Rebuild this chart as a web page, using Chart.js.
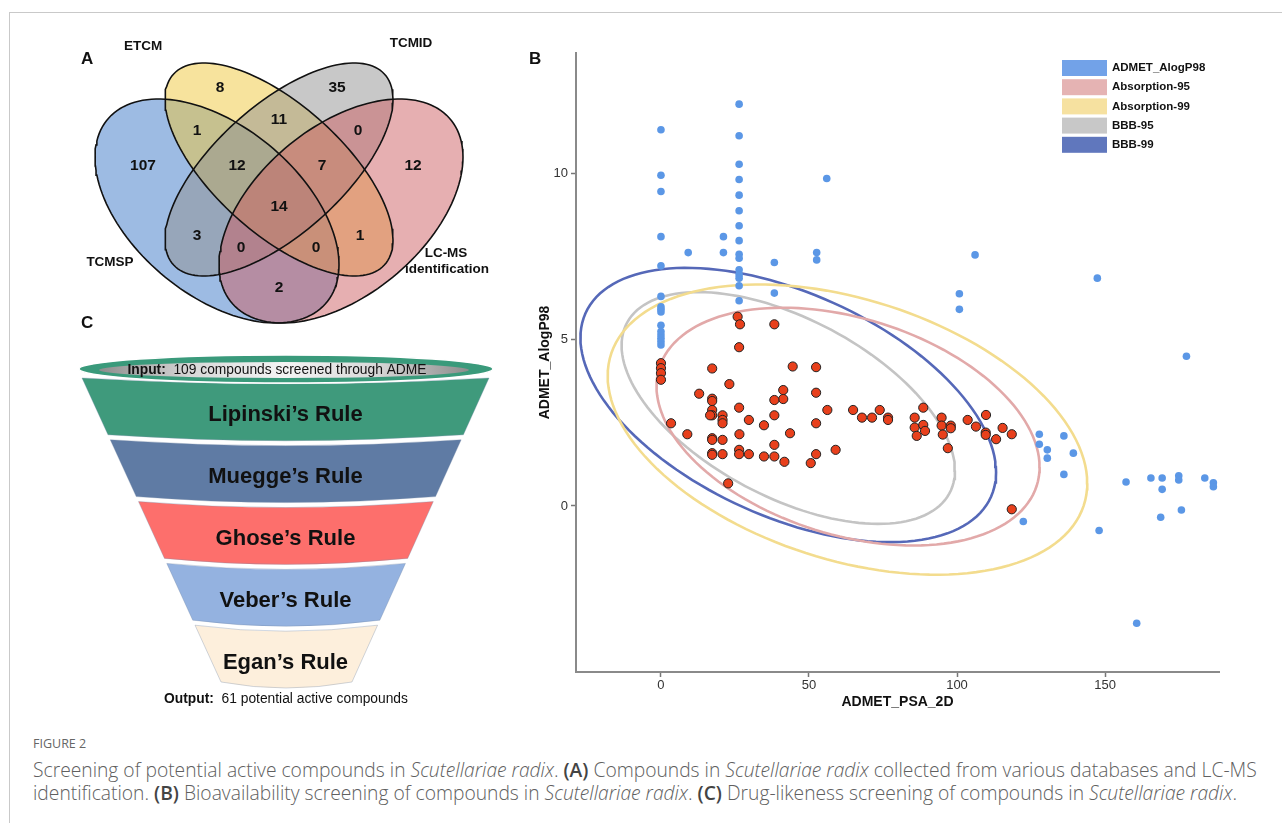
<!DOCTYPE html>
<html>
<head>
<meta charset="utf-8">
<script src="https://cdn.jsdelivr.net/npm/chart.js@4.4.1/dist/chart.umd.min.js"></script>
<style>
  html, body { margin: 0; padding: 0; background: #fff; width: 1282px; height: 823px; overflow: hidden; }
  #frame { position: absolute; left: 9px; top: 12px; width: 1300px; height: 830px;
           border-top: 1.5px solid #c9c9c9; border-left: 1.5px solid #c9c9c9; }
  canvas { position: absolute; }
  .panel { position: absolute; font: bold 17px "Liberation Sans", Arial, sans-serif; color: #111; line-height: 17px; }
  #caption { position: absolute; left: 33px; top: 734px; color: #606060; font-family: "Open Sans", sans-serif; font-weight: 300; }
  #caption .fig { font-size: 12.5px; line-height: 20px; color: #666; font-weight: 400; margin-bottom: 4px; }
  #caption .line { white-space: nowrap; line-height: 23px; font-size: 17px; }
  #caption b { color: #444; font-weight: 600; }
</style>
</head>
<body>
<div id="frame"></div>
<canvas id="venn" width="520" height="340" style="left:0;top:0"></canvas>
<canvas id="funnel" width="520" height="385" style="left:0;top:330px"></canvas>
<canvas id="scatter" width="740" height="680" style="left:505px;top:40px"></canvas>
<div class="panel" style="left:81px;top:50px">A</div>
<div class="panel" style="left:529px;top:50px">B</div>
<div class="panel" style="left:81px;top:314px">C</div>
<div id="caption">
  <div class="fig">FIGURE 2</div>
  <div class="line" id="capline1">Screening of potential active compounds in <i>Scutellariae radix</i>. <b>(A)</b> Compounds in <i>Scutellariae radix</i> collected from various databases and LC-MS</div>
  <div class="line">identification. <b>(B)</b> Bioavailability screening of compounds in <i>Scutellariae radix</i>. <b>(C)</b> Drug-likeness screening of compounds in <i>Scutellariae radix</i>.</div>
</div>
<script>
Chart.defaults.font.family = '"Liberation Sans", Arial, sans-serif';
Chart.defaults.color = '#333';

// ---------- Panel A: Venn ----------
var vennSets = ['TCMSP', 'ETCM', 'TCMID', 'LC-MS identification'];
var vennColors = ['rgba(60,120,200,0.5)', 'rgba(240,200,60,0.5)', 'rgba(145,145,145,0.5)', 'rgba(205,95,100,0.5)'];
// region counts, read left-to-right / top-to-bottom
var vennCounts = [107, 8, 35, 12, 1, 11, 0, 12, 7, 14, 3, 1, 0, 0, 2];
var vennCountX = [143, 220, 337, 413, 197, 279, 358, 237, 322, 279, 197, 360, 241, 316, 279];
var vennCountY = [166, 88, 88, 166, 131, 120, 131, 166, 166, 207, 236, 236, 248, 248, 288];
// ellipse shapes (centre, half extents, tilt)
var vennCx = [217, 279, 279, 341];
var vennCy = [211, 169.5, 169.5, 211];
var vennRx = [122, 114, 114, 122];
var vennRy = [112, 106.5, 106.5, 112];
var vennRho = [0.48, 0.66, -0.66, -0.48];
var vennNameX = [110, 143, 411, 446];
var vennNameY = [262, 46, 43, 253];

function ellipsePoints(cx, cy, rx, ry, rho) {
  var pts = [];
  var s = Math.sqrt(1 - rho * rho);
  for (var i = 0; i <= 144; i++) {
    var t = i / 144 * Math.PI * 2;
    pts.push({ x: cx + rx * Math.cos(t), y: cy + ry * (rho * Math.cos(t) + s * Math.sin(t)) });
  }
  return pts;
}

var vennLabels = {
  id: 'vennLabels',
  afterDraw: function (chart) {
    var ctx = chart.ctx, x = chart.scales.x, y = chart.scales.y;
    ctx.save();
    ctx.fillStyle = '#111';
    ctx.textAlign = 'center';
    ctx.textBaseline = 'middle';
    ctx.font = 'bold 15.5px "Liberation Sans", Arial';
    vennCounts.forEach(function (c, i) {
      ctx.fillText(String(c), x.getPixelForValue(vennCountX[i]), y.getPixelForValue(vennCountY[i]));
    });
    ctx.font = 'bold 13.5px "Liberation Sans", Arial';
    vennSets.forEach(function (name, i) {
      var parts = name === 'LC-MS identification' ? ['LC-MS', 'identification'] : [name];
      parts.forEach(function (p, k) {
        ctx.fillText(p, x.getPixelForValue(vennNameX[i] + (k ? 1 : 0)), y.getPixelForValue(vennNameY[i] + k * 16));
      });
    });
    ctx.restore();
  }
};

new Chart(document.getElementById('venn'), {
  type: 'scatter',
  data: {
    datasets: vennSets.map(function (name, i) {
      return {
        type: 'line', label: name, order: 4 - i,
        data: ellipsePoints(vennCx[i], vennCy[i], vennRx[i], vennRy[i], vennRho[i]),
        borderColor: '#111', borderWidth: 1.6, backgroundColor: vennColors[i],
        fill: 'shape', pointRadius: 0, tension: 0
      };
    })
  },
  options: {
    responsive: false, animation: false, events: [],
    layout: { padding: 0 },
    scales: {
      x: { type: 'linear', display: false, min: 0, max: 520 },
      y: { type: 'linear', display: false, min: 0, max: 340, reverse: true }
    },
    plugins: { legend: { display: false }, tooltip: { enabled: false }, filler: { drawTime: 'beforeDatasetsDraw' } }
  },
  plugins: [vennLabels]
});

// ---------- Panel C: funnel ----------
var stageLabels = ['Lipinski\u2019s Rule', 'Muegge\u2019s Rule', 'Ghose\u2019s Rule', 'Veber\u2019s Rule', 'Egan\u2019s Rule'];
var stageColors = ['#3f9a7c', '#5f7ba4', '#fd6f6c', '#94b2e0', '#fdefdc'];
var inputCount = 109;
var outputCount = 61;
var FUNNEL = { top: 378, bottom: 682, gap: 5, bulge: 6, leftTop: 82, leftBottom: 221, rightTop: 489, rightBottom: 352 };

var funnelPlugin = {
  id: 'funnel',
  afterDraw: function (chart) {
    var ctx = chart.ctx, x = chart.scales.x, y = chart.scales.y;
    var px = function (v) { return x.getPixelForValue(v); };
    var py = function (v) { return y.getPixelForValue(v); };
    var n = stageLabels.length;
    var h = FUNNEL.bottom - FUNNEL.top;
    var bandH = (h - (n - 1) * FUNNEL.gap) / n;
    var leftAt = function (v) { return FUNNEL.leftTop + (v - FUNNEL.top) / h * (FUNNEL.leftBottom - FUNNEL.leftTop); };
    var rightAt = function (v) { return FUNNEL.rightTop + (v - FUNNEL.top) / h * (FUNNEL.rightBottom - FUNNEL.rightTop); };
    var mid = (FUNNEL.leftTop + FUNNEL.rightTop) / 2;
    ctx.save();
    stageLabels.forEach(function (label, i) {
      var t = FUNNEL.top + i * (bandH + FUNNEL.gap), b = t + bandH;
      ctx.beginPath();
      ctx.moveTo(px(leftAt(t)), py(t));
      ctx.quadraticCurveTo(px(mid), py(t + 2 * FUNNEL.bulge), px(rightAt(t)), py(t));
      ctx.lineTo(px(rightAt(b)), py(b));
      ctx.quadraticCurveTo(px(mid), py(b + 2 * FUNNEL.bulge), px(leftAt(b)), py(b));
      ctx.closePath();
      ctx.fillStyle = stageColors[i];
      ctx.fill();
      ctx.strokeStyle = 'rgba(120,140,170,0.35)';
      ctx.lineWidth = 1;
      ctx.stroke();
      ctx.fillStyle = '#111';
      ctx.font = 'bold 22px "Liberation Sans", Arial';
      ctx.textAlign = 'center';
      ctx.textBaseline = 'middle';
      ctx.fillText(label, px(mid), py((t + b) / 2 + FUNNEL.bulge + 3));
    });

    // rim of the funnel
    ctx.beginPath();
    ctx.ellipse(px(286), py(369), 207, 14, 0, 0, Math.PI * 2);
    ctx.fillStyle = '#3a9a7b';
    ctx.fill();
    ctx.strokeStyle = '#fff';
    ctx.lineWidth = 1.5;
    ctx.stroke();
    var g = ctx.createLinearGradient(px(100), 0, px(468), 0);
    g.addColorStop(0, '#8d8d8d');
    g.addColorStop(0.25, '#d8d8d8');
    g.addColorStop(0.5, '#f4f4f4');
    g.addColorStop(0.75, '#d8d8d8');
    g.addColorStop(1, '#8d8d8d');
    ctx.beginPath();
    ctx.ellipse(px(284), py(370), 185, 8, 0, 0, Math.PI * 2);
    ctx.fillStyle = g;
    ctx.fill();

    function twoPart(boldTxt, restTxt, cx, cy) {
      var fs = '13.8px "Liberation Sans", Arial';
      ctx.textAlign = 'left';
      ctx.textBaseline = 'middle';
      ctx.font = 'bold ' + fs;
      var w1 = ctx.measureText(boldTxt).width;
      ctx.font = fs;
      var w2 = ctx.measureText(restTxt).width;
      var x0 = px(cx) - (w1 + w2) / 2;
      ctx.fillStyle = '#111';
      ctx.font = 'bold ' + fs;
      ctx.fillText(boldTxt, x0, py(cy));
      ctx.font = fs;
      ctx.fillText(restTxt, x0 + w1, py(cy));
    }
    twoPart('Input:', '  ' + inputCount + ' compounds screened through ADME', 277, 370);
    twoPart('Output:', '  ' + outputCount + ' potential active compounds', 286, 699);
    ctx.restore();
  }
};

new Chart(document.getElementById('funnel'), {
  type: 'scatter',
  data: { datasets: [{ data: [] }] },
  options: {
    responsive: false, animation: false, events: [],
    layout: { padding: 0 },
    scales: {
      x: { type: 'linear', display: false, min: 0, max: 520 },
      y: { type: 'linear', display: false, min: 330, max: 715, reverse: true }
    },
    plugins: { legend: { display: false }, tooltip: { enabled: false } }
  },
  plugins: [funnelPlugin]
});

// ---------- Panel B: bioavailability scatter ----------
var xTicks = [0, 50, 100, 150];
var yTicks = [0, 5, 10];

// all compounds (ADMET_PSA_2D, ADMET_AlogP98)
var psaAll = [0, 0, 0, 0, 0, 0, 0, 0, 0, 0, 0, 0, 0, 0, 0,
  26.4, 26.4, 26.4, 26.4, 26.4, 26.4, 26.4, 26.4, 26.4, 26.4, 26.4, 26.4, 26.4, 26.4, 26.4,
  9.2, 21.1, 21.1, 38.3, 38.3, 52.6, 52.6, 56.0,
  106.1, 100.8, 100.8, 147.4, 177.5,
  127.8, 127.8, 130.5, 130.5, 136.1, 139.3, 136.1,
  122.4, 148.0, 157.1, 165.5, 169.3, 169.3, 174.9, 174.9, 183.7, 186.6, 186.6, 168.8, 175.8, 160.7];
var alogAll = [11.33, 9.96, 9.47, 8.11, 7.23, 6.31, 6.0, 5.92, 5.84, 5.44, 5.25, 5.15, 5.05, 4.95, 4.85,
  12.10, 11.15, 10.29, 9.83, 9.36, 8.89, 8.44, 7.99, 7.58, 7.46, 7.11, 6.96, 6.86, 6.63, 6.18,
  7.63, 8.11, 7.63, 7.33, 6.41, 7.63, 7.41, 9.86,
  7.56, 6.39, 5.92, 6.86, 4.51,
  2.16, 1.86, 1.69, 1.44, 2.11, 1.59, 0.95,
  -0.47, -0.74, 0.72, 0.84, 0.84, 0.50, 0.91, 0.78, 0.84, 0.70, 0.58, -0.34, -0.12, -3.53];

// compounds passing the screen (red)
var psaHit = [0, 0, 0, 0, 25.9, 26.7, 26.4, 38.3, 17.3, 23.1, 44.5, 52.4,
  12.9, 17.3, 17.3, 41.3, 41.3, 38.3, 52.4,
  26.4, 17.3, 17.3, 16.6, 20.8, 20.8, 20.8, 29.7, 38.3, 34.8, 52.4,
  3.4, 8.9, 26.5, 43.6, 17.3, 17.3, 20.8, 38.3,
  17.3, 17.3, 20.8, 26.4, 26.4, 29.7, 34.8, 38.3, 41.7, 50.6, 52.4, 22.7,
  56.2, 59.0, 64.9, 67.9, 71.3, 73.9, 76.7, 76.7,
  85.7, 88.6, 85.7, 88.6, 89.2, 86.4,
  94.8, 94.8, 97.9, 97.9, 95.2, 96.9,
  103.6, 106.4, 109.8, 109.7, 109.7, 113.2, 115.4, 118.5, 118.5];
var alogHit = [4.30, 4.15, 4.00, 3.80, 5.70, 5.47, 4.78, 5.47, 4.14, 3.67, 4.20, 4.18,
  3.38, 3.23, 3.16, 3.49, 3.22, 3.19, 3.41,
  2.96, 2.89, 2.73, 2.73, 2.73, 2.59, 2.49, 2.59, 2.73, 2.43, 2.49,
  2.49, 2.16, 2.16, 2.19, 2.04, 1.99, 1.99, 1.84,
  1.59, 1.54, 1.56, 1.69, 1.56, 1.56, 1.49, 1.49, 1.33, 1.29, 1.56, 0.68,
  2.89, 1.69, 2.89, 2.66, 2.66, 2.89, 2.66, 2.59,
  2.66, 2.96, 2.36, 2.44, 2.26, 2.11,
  2.66, 2.42, 2.42, 2.34, 2.15, 1.74,
  2.59, 2.39, 2.74, 2.21, 2.14, 2.01, 2.35, 2.16, -0.10];

// confidence ellipses: centre, half extents, correlation
var ellipseNames = ['Absorption-95', 'Absorption-99', 'BBB-95', 'BBB-99'];
var ellipseLineColors = ['#e2a9a9', '#f3dc8e', '#c4c4c4', '#5568b8'];
var ellipseKeyColors = ['#e5b3b3', '#f6e1a0', '#c8c8c8', '#6077bd'];
var ellipseCx = [63.2, 63.0, 43.0, 43.0];
var ellipseCy = [2.39, 2.30, 2.95, 3.04];
var ellipseRx = [64.7, 81.0, 56.3, 70.2];
var ellipseRy = [3.58, 4.37, 3.49, 4.13];
var ellipseRho = [-0.34, -0.37, -0.54, -0.49];

function zip(xs, ys) { return xs.map(function (v, i) { return { x: v, y: ys[i] }; }); }

var datasets = [
  { label: 'hits', data: zip(psaHit, alogHit), backgroundColor: '#e8401c', borderColor: '#222', borderWidth: 1,
    pointRadius: 4.6, order: 0, keyColor: null },
  { label: 'ADMET_AlogP98', data: zip(psaAll, alogAll), backgroundColor: '#5b97e6', borderWidth: 0,
    pointRadius: 3.8, order: 1, keyColor: '#72a2e8' }
];
ellipseNames.forEach(function (name, i) {
  datasets.push({
    type: 'line', label: name,
    data: ellipsePoints(ellipseCx[i], ellipseCy[i], ellipseRx[i], ellipseRy[i], ellipseRho[i]),
    borderColor: ellipseLineColors[i], borderWidth: 2.6, pointRadius: 0, fill: false, tension: 0,
    order: 2 + i, keyColor: ellipseKeyColors[i]
  });
});

var keyPlugin = {
  id: 'keyBox',
  afterDraw: function (chart) {
    var ctx = chart.ctx;
    var order = ['ADMET_AlogP98', 'Absorption-95', 'Absorption-99', 'BBB-95', 'BBB-99'];
    ctx.save();
    ctx.font = 'bold 11.5px "Liberation Sans", Arial';
    ctx.textBaseline = 'middle';
    ctx.textAlign = 'left';
    order.forEach(function (name, i) {
      var ds = chart.data.datasets.filter(function (d) { return d.label === name; })[0];
      var top = 20 + i * 19.2;
      ctx.fillStyle = ds.keyColor;
      ctx.fillRect(557, top, 45, 16);
      ctx.fillStyle = '#111';
      ctx.fillText(name, 607, top + 8);
    });
    ctx.restore();
  }
};

new Chart(document.getElementById('scatter'), {
  type: 'scatter',
  data: { datasets: datasets },
  options: {
    responsive: false, animation: false, events: [],
    layout: { padding: { top: 13, right: 26, left: 0, bottom: 0 } },
    scales: {
      x: {
        type: 'linear', min: -28.7, max: 188.5,
        afterBuildTicks: function (s) { s.ticks = xTicks.map(function (v) { return { value: v }; }); },
        afterFit: function (s) { s.height = 48; },
        grid: { drawOnChartArea: false, tickLength: 5, tickColor: '#777', tickWidth: 1.5 },
        border: { display: true, color: '#8a8a8a', width: 2 },
        ticks: { padding: 1, color: '#333', font: { size: 13 } },
        title: { display: true, text: 'ADMET_PSA_2D', color: '#111', font: { size: 14, weight: 'bold' }, padding: { top: 0, bottom: 9.6 } }
      },
      y: {
        type: 'linear', min: -5.0, max: 13.64,
        afterBuildTicks: function (s) { s.ticks = yTicks.map(function (v) { return { value: v }; }); },
        afterFit: function (s) { s.width = 71; },
        grid: { drawOnChartArea: false, tickLength: 5, tickColor: '#777', tickWidth: 1.5 },
        border: { display: true, color: '#8a8a8a', width: 2 },
        ticks: { padding: 3, color: '#333', font: { size: 13 } },
        title: { display: true, text: 'ADMET_AlogP98', color: '#111', font: { size: 14, weight: 'bold' }, padding: { top: 31.6, bottom: 0 } }
      }
    },
    plugins: { legend: { display: false }, tooltip: { enabled: false } }
  },
  plugins: [keyPlugin]
});

// fit caption's first line to the printed width
(function () {
  var line = document.getElementById('capline1');
  var w = line.scrollWidth;
  var size = 17 * 1225 / w;
  document.querySelectorAll('#caption .line').forEach(function (el) { el.style.fontSize = size + 'px'; });
})();
</script>
</body>
</html>
